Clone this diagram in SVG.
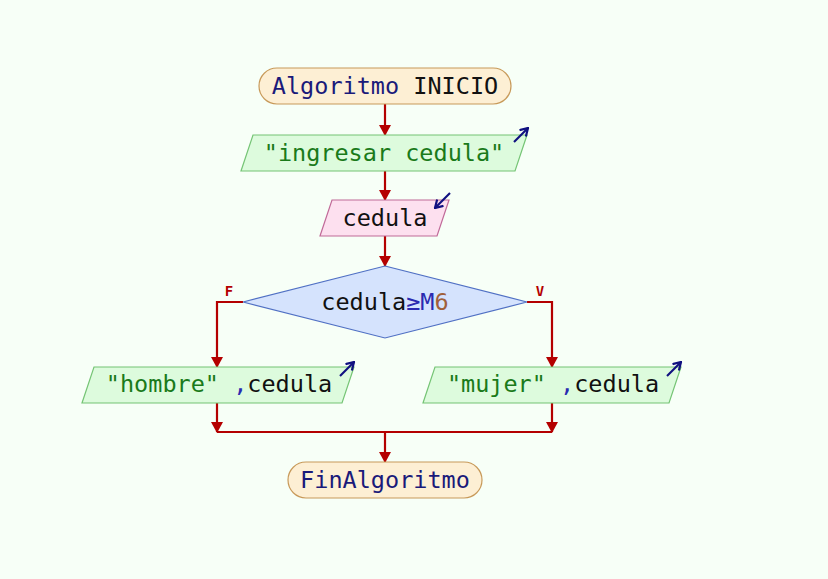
<svg xmlns="http://www.w3.org/2000/svg" width="828" height="579" viewBox="0 0 828 579">
<style>
text{font-family:"DejaVu Sans Mono",monospace;font-size:23.5px}
.term{fill:#fdefd4;stroke:#c89a5a;stroke-width:1.2}
.io{fill:#ddfbdd;stroke:#74c474;stroke-width:1.2}
.in{fill:#fde0ef;stroke:#c06a98;stroke-width:1.2}
.dec{fill:#d5e3fd;stroke:#5070c4;stroke-width:1.2}
.ln{fill:none;stroke:#b40000;stroke-width:2.2}
.ic{fill:none;stroke:#101080;stroke-width:2.2}
.kw{fill:#1a1a7a}
.bk{fill:#111}
.st{fill:#1a7a1a}
.op{fill:#2a2ab0}
.num{fill:#a0603a}
.lbl{font-family:"DejaVu Sans Mono",monospace;font-size:14px;font-weight:bold;fill:#b40000}
</style>
<defs>
<marker id="ah" markerWidth="11" markerHeight="12" refX="10" refY="6" orient="auto" markerUnits="userSpaceOnUse">
<path d="M0,0 L11,6 L0,12 Z" fill="#b40000"/>
</marker>
<marker id="ic" markerWidth="9" markerHeight="10" refX="8" refY="5" orient="auto" markerUnits="userSpaceOnUse">
<path d="M0.5,0.5 L8,5 L0.5,9.5" fill="none" stroke="#101080" stroke-width="2.2"/>
</marker>
</defs>
<rect width="828" height="579" fill="#f7fff7"/>
<g id="connectors">
<line class="ln" x1="385" y1="104" x2="385" y2="135" marker-end="url(#ah)"/>
<line class="ln" x1="385" y1="171" x2="385" y2="200" marker-end="url(#ah)"/>
<line class="ln" x1="385" y1="236" x2="385" y2="266" marker-end="url(#ah)"/>
<polyline class="ln" points="243,302 217,302 217,367" marker-end="url(#ah)"/>
<polyline class="ln" points="527,302 552,302 552,367" marker-end="url(#ah)"/>
<line class="ln" x1="217" y1="403" x2="217" y2="432" marker-end="url(#ah)"/>
<line class="ln" x1="552" y1="403" x2="552" y2="432" marker-end="url(#ah)"/>
<line class="ln" x1="217" y1="432" x2="552" y2="432"/>
<line class="ln" x1="385" y1="432" x2="385" y2="462" marker-end="url(#ah)"/>
<text class="lbl" x="229" y="296" text-anchor="middle">F</text>
<text class="lbl" x="540" y="296" text-anchor="middle">V</text>
</g>
<g id="start">
<rect class="term" x="259" y="68" width="252" height="36" rx="18"/>
<text x="385" y="94" text-anchor="middle"><tspan class="kw">Algoritmo</tspan><tspan class="bk"> INICIO</tspan></text>
</g>
<g id="out1">
<polygon class="io" points="253,135 527,135 515,171 241,171"/>
<text x="384" y="161" text-anchor="middle" class="st">"ingresar cedula"</text>
<line class="ic" x1="514" y1="142" x2="528" y2="128" marker-end="url(#ic)"/>
</g>
<g id="in1">
<polygon class="in" points="332,200 449,200 437,236 320,236"/>
<text x="385" y="226" text-anchor="middle" class="bk">cedula</text>
<line class="ic" x1="450" y1="193" x2="435" y2="208" marker-end="url(#ic)"/>
</g>
<g id="cond">
<polygon class="dec" points="385,266 527,302 385,338 243,302"/>
<text x="385" y="310" text-anchor="middle"><tspan class="bk">cedula</tspan><tspan class="op">≥M</tspan><tspan class="num">6</tspan></text>
</g>
<g id="outF">
<polygon class="io" points="94,367 354,367 342,403 82,403"/>
<text x="219" y="392" text-anchor="middle"><tspan class="st">"hombre"</tspan><tspan class="op"> ,</tspan><tspan class="bk">cedula</tspan></text>
<line class="ic" x1="340" y1="376" x2="354" y2="362" marker-end="url(#ic)"/>
</g>
<g id="outV">
<polygon class="io" points="435,367 681,367 669,403 423,403"/>
<text x="553" y="392" text-anchor="middle"><tspan class="st">"mujer"</tspan><tspan class="op"> ,</tspan><tspan class="bk">cedula</tspan></text>
<line class="ic" x1="667" y1="376" x2="681" y2="362" marker-end="url(#ic)"/>
</g>
<g id="end">
<rect class="term" x="288" y="462" width="194" height="36" rx="18"/>
<text x="385" y="488" text-anchor="middle" class="kw">FinAlgoritmo</text>
</g>
</svg>
